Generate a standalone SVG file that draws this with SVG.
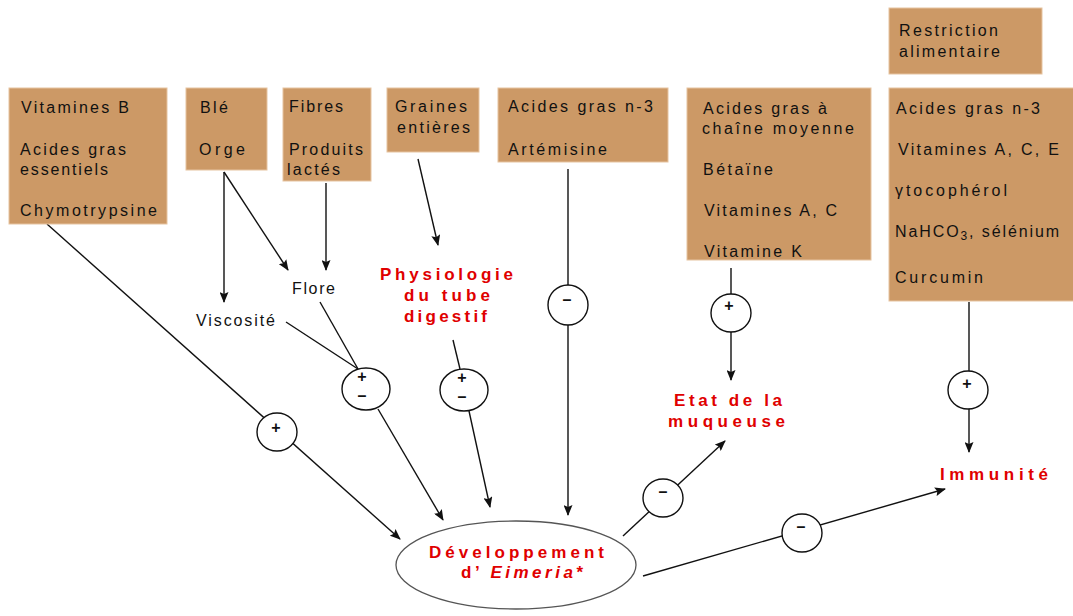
<svg xmlns="http://www.w3.org/2000/svg" width="1073" height="616" viewBox="0 0 1073 616">
<style>
.box{fill:#CC9966;stroke:#E6C3A0;stroke-width:1}
.t{font-family:"Liberation Sans",Arial,sans-serif;font-size:16px;fill:#111}
.r{font-family:"Liberation Sans",Arial,sans-serif;font-size:17px;font-weight:bold;fill:#E00000}
.ln{stroke:#111;stroke-width:1.4;fill:none}
.sg{fill:#fff;stroke:#111;stroke-width:1.4}
.s{font-family:"Liberation Sans",Arial,sans-serif;font-size:16px;font-weight:bold;fill:#111;text-anchor:middle}
.ar{marker-end:url(#a)}
</style>
<defs>
<marker id="a" markerUnits="userSpaceOnUse" markerWidth="11" markerHeight="9" refX="10" refY="4.5" orient="auto">
<path d="M0,0 L11,4.5 L0,9 L2,4.5 z" fill="#111"/>
</marker>
</defs>
<rect width="1073" height="616" fill="#fff"/>

<g id="connectors">
<line class="ln ar" x1="47" y1="224" x2="400" y2="539"/>
<line class="ln ar" x1="224" y1="172" x2="224" y2="302"/>
<line class="ln ar" x1="224" y1="172" x2="288" y2="270"/>
<line class="ln ar" x1="326" y1="183" x2="326" y2="270"/>
<line class="ln" x1="320" y1="302" x2="358" y2="369"/>
<line class="ln" x1="286" y1="322" x2="358" y2="369"/>
<line class="ln ar" x1="378" y1="409" x2="443" y2="520"/>
<line class="ln ar" x1="418" y1="159" x2="438" y2="245"/>
<line class="ln" x1="453" y1="340" x2="460" y2="369"/>
<line class="ln ar" x1="469" y1="411" x2="490" y2="507"/>
<line class="ln ar" x1="568" y1="169" x2="568" y2="515"/>
<line class="ln ar" x1="731" y1="268" x2="731" y2="380"/>
<line class="ln ar" x1="969" y1="302" x2="969" y2="452"/>
<line class="ln ar" x1="623" y1="536" x2="725" y2="441"/>
<line class="ln ar" x1="643" y1="576" x2="945" y2="489"/>
</g>

<g id="b1"><rect class="box" x="9" y="88" width="158" height="136"/>
<text class="t" x="21" y="113" textLength="108" lengthAdjust="spacing">Vitamines B</text>
<text class="t" x="20" y="155" textLength="106" lengthAdjust="spacing">Acides gras</text>
<text class="t" x="20" y="175" textLength="88" lengthAdjust="spacing">essentiels</text>
<text class="t" x="20" y="216" textLength="137" lengthAdjust="spacing">Chymotrypsine</text></g>

<g id="b2"><rect class="box" x="186" y="88" width="81" height="82"/>
<text class="t" x="200" y="113" textLength="28" lengthAdjust="spacing">Blé</text>
<text class="t" x="199" y="155" textLength="46" lengthAdjust="spacing">Orge</text></g>

<g id="b3"><rect class="box" x="283" y="88" width="88" height="93"/>
<text class="t" x="289" y="112" textLength="54" lengthAdjust="spacing">Fibres</text>
<text class="t" x="289" y="155" textLength="74" lengthAdjust="spacing">Produits</text>
<text class="t" x="287" y="175" textLength="53" lengthAdjust="spacing">lactés</text></g>

<g id="b4"><rect class="box" x="387" y="88" width="92" height="64"/>
<text class="t" x="395" y="112" textLength="72" lengthAdjust="spacing">Graines</text>
<text class="t" x="397" y="133" textLength="73" lengthAdjust="spacing">entières</text></g>

<g id="b5"><rect class="box" x="498" y="88" width="170" height="74"/>
<text class="t" x="508" y="112" textLength="145" lengthAdjust="spacing">Acides gras n-3</text>
<text class="t" x="508" y="155" textLength="99" lengthAdjust="spacing">Artémisine</text></g>

<g id="b6"><rect class="box" x="687" y="88" width="184" height="172"/>
<text class="t" x="703" y="114" textLength="124" lengthAdjust="spacing">Acides gras à</text>
<text class="t" x="702" y="134" textLength="152" lengthAdjust="spacing">chaîne moyenne</text>
<text class="t" x="703" y="175" textLength="70" lengthAdjust="spacing">Bétaïne</text>
<text class="t" x="704" y="216" textLength="133" lengthAdjust="spacing">Vitamines A, C</text>
<text class="t" x="704" y="257" textLength="98" lengthAdjust="spacing">Vitamine K</text></g>

<g id="b7"><rect class="box" x="889" y="8" width="153" height="66"/>
<text class="t" x="899" y="36" textLength="99" lengthAdjust="spacing">Restriction</text>
<text class="t" x="899" y="57" textLength="101" lengthAdjust="spacing">alimentaire</text></g>

<g id="b8"><rect class="box" x="889" y="88" width="190" height="213"/>
<text class="t" x="896" y="114" textLength="144" lengthAdjust="spacing">Acides gras n-3</text>
<text class="t" x="898" y="155" textLength="161" lengthAdjust="spacing">Vitamines A, C, E</text>
<text class="t" x="895" y="196" textLength="112" lengthAdjust="spacing">γtocophérol</text>
<text class="t" x="895" y="237" letter-spacing="1.9">NaHCO<tspan font-size="12" dy="3">3</tspan><tspan dy="-3">, sélénium</tspan></text>
<text class="t" x="895" y="283" textLength="88" lengthAdjust="spacing">Curcumin</text></g>

<g id="viscosite"><text class="t" x="196" y="326" textLength="79" lengthAdjust="spacing">Viscosité</text></g>
<g id="flore"><text class="t" x="292" y="294" textLength="43" lengthAdjust="spacing">Flore</text></g>

<g id="physiologie">
<text class="r" x="380" y="280" textLength="133" lengthAdjust="spacing">Physiologie</text>
<text class="r" x="404" y="301" textLength="86" lengthAdjust="spacing">du tube</text>
<text class="r" x="404" y="322" textLength="83" lengthAdjust="spacing">digestif</text></g>

<g id="etat">
<text class="r" x="674" y="406" textLength="108" lengthAdjust="spacing">Etat de la</text>
<text class="r" x="668" y="427" textLength="117" lengthAdjust="spacing">muqueuse</text></g>

<g id="immunite"><text class="r" x="940" y="480" textLength="108" lengthAdjust="spacing">Immunité</text></g>

<g id="eimeria">
<ellipse cx="516" cy="565" rx="120" ry="44" fill="#fff" stroke="#555" stroke-width="1.3"/>
<text class="r" x="429" y="558" textLength="175" lengthAdjust="spacing">Développement</text>
<text class="r" x="461" y="578" textLength="122" lengthAdjust="spacing">d’ <tspan font-style="italic">Eimeria</tspan>*</text></g>

<g id="s1"><ellipse class="sg" cx="277" cy="432" rx="20" ry="19"/><text class="s" x="276" y="433">+</text></g>
<g id="s2"><ellipse class="sg" cx="366" cy="389" rx="24" ry="21"/><text class="s" x="362" y="382" font-size="18">+</text><text class="s" x="362" y="401">–</text></g>
<g id="s3"><ellipse class="sg" cx="464" cy="390" rx="24" ry="21"/><text class="s" x="462" y="383" font-size="18">+</text><text class="s" x="462" y="402">–</text></g>
<g id="s4"><ellipse class="sg" cx="568" cy="305" rx="20" ry="20"/><text class="s" x="567" y="305">–</text></g>
<g id="s5"><ellipse class="sg" cx="731" cy="313" rx="20" ry="19"/><text class="s" x="729" y="311">+</text></g>
<g id="s6"><ellipse class="sg" cx="968" cy="390" rx="20" ry="19"/><text class="s" x="967" y="389">+</text></g>
<g id="s7"><ellipse class="sg" cx="663" cy="498" rx="20" ry="19"/><text class="s" x="663" y="497">–</text></g>
<g id="s8"><ellipse class="sg" cx="802" cy="533" rx="20" ry="19"/><text class="s" x="801" y="532">–</text></g>
</svg>
